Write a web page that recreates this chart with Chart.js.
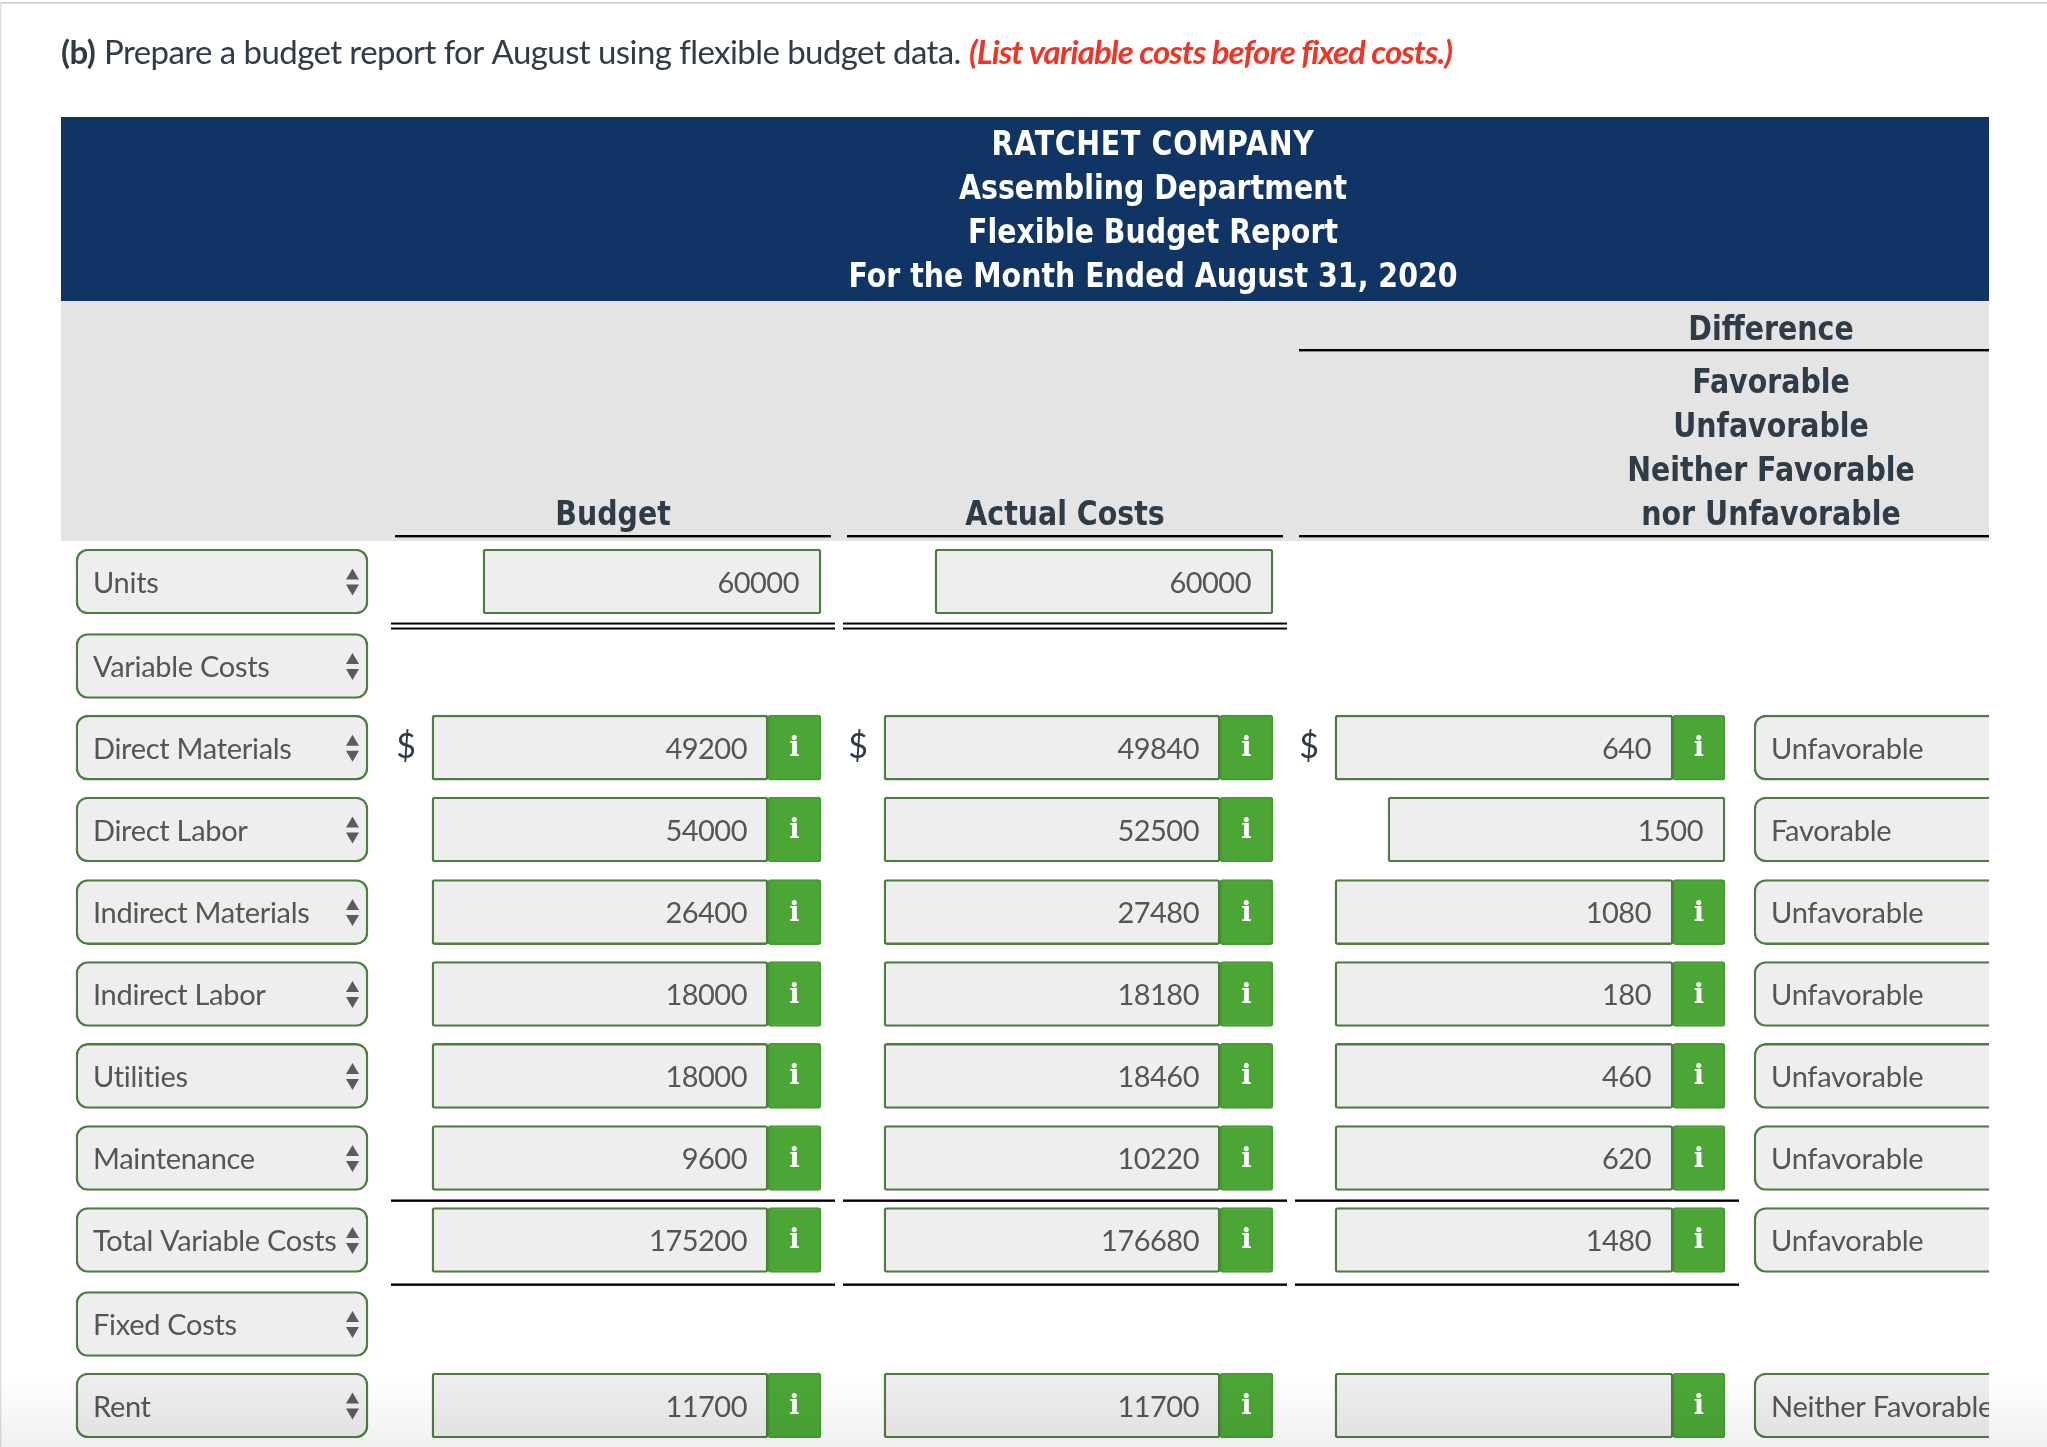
<!DOCTYPE html>
<html>
<head>
<meta charset="utf-8">
<title>Flexible Budget Report</title>
<style>
  html, body { margin: 0; padding: 0; background: #fff; }
  canvas { display: block; }
</style>
<script src="https://cdn.jsdelivr.net/npm/chart.js@4/dist/chart.umd.min.js"></script>
</head>
<body>
<canvas id="report" width="2047" height="1447"></canvas>
<script>
// Table rows
const rowLabels = ['Units', 'Variable Costs', 'Direct Materials', 'Direct Labor', 'Indirect Materials',
  'Indirect Labor', 'Utilities', 'Maintenance', 'Total Variable Costs', 'Fixed Costs', 'Rent'];
const budgetValues = [60000, null, 49200, 54000, 26400, 18000, 18000, 9600, 175200, null, 11700];
const actualValues = [60000, null, 49840, 52500, 27480, 18180, 18460, 10220, 176680, null, 11700];
const diffValues = [null, null, 640, 1500, 1080, 180, 460, 620, 1480, null, ''];
const diffStatus = [null, null, 'Unfavorable', 'Favorable', 'Unfavorable', 'Unfavorable', 'Unfavorable',
  'Unfavorable', 'Unfavorable', null, 'Neither Favorable'];
const budgetInfo = [false, false, true, true, true, true, true, true, true, false, true];
const actualInfo = [false, false, true, true, true, true, true, true, true, false, true];
const diffInfo = [false, false, true, false, true, true, true, true, true, false, true];
const dollarRows = ['Direct Materials'];

// Heading text
const reportTitle = ['RATCHET COMPANY', 'Assembling Department', 'Flexible Budget Report', 'For the Month Ended August 31, 2020'];
const statusHeader = ['Favorable', 'Unfavorable', 'Neither Favorable', 'nor Unfavorable'];

// Layout, in page pixels on the x scale
const TABLE_LEFT = 61, TABLE_RIGHT = 1989;
const SELECT_COL = [76, 368];
const STATUS_COL = [1754, 2020];
const COLS = [
  { values: budgetValues, info: budgetInfo, left: 432, split: 768, right: 821, plainLeft: 483, textRight: 747 },
  { values: actualValues, info: actualInfo, left: 884, split: 1220, right: 1273, plainLeft: 935, textRight: 1199 },
  { values: diffValues, info: diffInfo, left: 1335, split: 1673, right: 1725, plainLeft: 1388, textRight: 1651 }
];
// the rows of the original are not quite evenly spaced
const ROW_NUDGE = [0.3, 2.3, 1.5, 0.9, 1, 0.5, 0, -0.4, -0.9, 0.7, -0.3];

const BORDER = '#4e7d42', FIELD = '#eeeeee', GREEN = '#4ca636', INK = '#555555', DARK = '#2f3b46';

function fieldBars(col) {
  return col.values.map((v, i) => {
    if (v === null) return null;
    return col.info[i] ? [col.left, col.split] : [col.plainLeft, col.right];
  });
}
function infoBars(col) {
  return col.values.map((v, i) => (v !== null && col.info[i]) ? [col.split, col.right] : null);
}

const datasets = [
  { data: rowLabels.map(() => SELECT_COL), backgroundColor: FIELD, borderColor: BORDER, borderWidth: 2.4, borderRadius: 12 },
  { data: diffStatus.map(s => s ? STATUS_COL : null), backgroundColor: FIELD, borderColor: BORDER, borderWidth: 2.4, borderRadius: 12 }
];
COLS.forEach(col => {
  datasets.push({ data: fieldBars(col), backgroundColor: FIELD, borderColor: BORDER, borderWidth: 2.4, borderRadius: 3 });
  datasets.push({ data: infoBars(col), backgroundColor: GREEN, borderColor: '#479a36', borderWidth: 2, borderRadius: 3 });
});

function put(ctx, text, x, y, font, color, align, spacing) {
  ctx.font = font;
  ctx.fillStyle = color;
  ctx.textAlign = align || 'left';
  ctx.textBaseline = 'middle';
  ctx.letterSpacing = spacing || '0px';
  ctx.fillText(text, x, y);
  ctx.letterSpacing = '0px';
}

// the bold headings in the original are a squeezed Verdana look
function putHead(ctx, text, x, y, color, spacing) {
  ctx.save();
  ctx.translate(x, y);
  ctx.scale(0.862, 1);
  put(ctx, text, 0, 0, 'bold 33px "DejaVu Sans"', color, 'center', spacing);
  ctx.restore();
}

function rule(ctx, x0, x1, y, h) {
  ctx.fillStyle = '#000';
  ctx.fillRect(x0, y, x1 - x0, h || 2.4);
}

// Page furniture behind the table
const headerPlugin = {
  id: 'header',
  afterDatasetsUpdate(chart) {
    chart.data.datasets.forEach((ds, d) => {
      chart.getDatasetMeta(d).data.forEach((bar, i) => { bar.y += ROW_NUDGE[i]; });
    });
  },
  beforeDatasetsDraw(chart) {
    const ctx = chart.ctx, x = chart.scales.x;
    const px = v => x.getPixelForValue(v);
    ctx.save();
    ctx.fillStyle = '#ffffff';
    ctx.fillRect(0, 0, 2047, 1447);
    ctx.fillStyle = '#c9c9c9';
    ctx.fillRect(0, 2, 2047, 1.5);
    ctx.fillStyle = '#e2e2e2';
    ctx.fillRect(0, 2, 1.5, 1445);

    put(ctx, '(b)', px(61), 53, 'bold 33px Lato', DARK, 'left', '-0.5px');
    put(ctx, 'Prepare a budget report for August using flexible budget data.', px(104), 53, '33px Lato', DARK, 'left', '-0.57px');
    put(ctx, '(List variable costs before fixed costs.)', px(969), 53, 'italic bold 33px Lato', '#f03526', 'left', '-0.92px');

    ctx.fillStyle = '#103463';
    ctx.fillRect(px(TABLE_LEFT), 117, px(TABLE_RIGHT) - px(TABLE_LEFT), 184);
    ctx.fillStyle = '#e4e4e4';
    ctx.fillRect(px(TABLE_LEFT), 301, px(TABLE_RIGHT) - px(TABLE_LEFT), 240);

    reportTitle.forEach((t, i) => putHead(ctx, t, px(1153), 146 + i * 44, '#ffffff', i === 0 ? '0.8px' : '0px'));
    putHead(ctx, 'Difference', px(1771), 331, DARK);
    statusHeader.forEach((t, i) => putHead(ctx, t, px(1771), 384 + i * 44, DARK));
    putHead(ctx, 'Budget', px(613), 516, DARK);
    putHead(ctx, 'Actual Costs', px(1065), 516, DARK);

    rule(ctx, px(1299), px(TABLE_RIGHT), 349);
    rule(ctx, px(395), px(831), 535);
    rule(ctx, px(847), px(1283), 535);
    rule(ctx, px(1299), px(TABLE_RIGHT), 535);
    ctx.restore();
  }
};

// Text and small marks on top of the boxes
const cellPlugin = {
  id: 'cells',
  afterDatasetsDraw(chart) {
    const ctx = chart.ctx, x = chart.scales.x, y = chart.scales.y;
    const px = v => x.getPixelForValue(v);
    const valueFont = '29px Lato';
    ctx.save();

    rowLabels.forEach((label, i) => {
      const cy = y.getPixelForValue(i) + ROW_NUDGE[i];
      put(ctx, label, px(93), cy + 2, valueFont, INK, 'left', '-0.3px');
      // select arrows
      ctx.fillStyle = '#5b5b5b';
      ctx.beginPath();
      ctx.moveTo(px(346), cy - 2); ctx.lineTo(px(359), cy - 2); ctx.lineTo(px(352.5), cy - 13); ctx.closePath();
      ctx.moveTo(px(346), cy + 3); ctx.lineTo(px(359), cy + 3); ctx.lineTo(px(352.5), cy + 14); ctx.closePath();
      ctx.fill();

      COLS.forEach(col => {
        const v = col.values[i];
        if (v === null) return;
        const right = col.info[i] ? col.textRight : col.right - 22;
        if (v !== '') put(ctx, String(v), px(right), cy + 2, valueFont, INK, 'right', '-0.5px');
        if (col.info[i]) {
          put(ctx, 'i', px((col.split + col.right) / 2), cy + 1.5, 'bold 27px "DejaVu Serif"', '#ffffff', 'center');
        }
        if (dollarRows.includes(label)) put(ctx, '$', px(col.left - 26), cy - 1, '34px Lato', DARK, 'center');
      });

      if (diffStatus[i]) put(ctx, diffStatus[i], px(1771), cy + 2, valueFont, INK, 'left', '-0.25px');

      // rules under units and around the total
      if (label === 'Units') {
        [[391, 835], [843, 1287]].forEach(r => {
          rule(ctx, px(r[0]), px(r[1]), cy + 41, 2);
          rule(ctx, px(r[0]), px(r[1]), cy + 46, 2);
        });
      }
      if (label === 'Total Variable Costs') {
        [[391, 835], [843, 1287], [1295, 1739]].forEach(r => {
          rule(ctx, px(r[0]), px(r[1]), cy - 40.5);
          rule(ctx, px(r[0]), px(r[1]), cy + 43.5);
        });
      }
    });

    // the report is cut off at the right edge of the table
    ctx.fillStyle = '#ffffff';
    ctx.fillRect(px(TABLE_RIGHT), 541, 2047 - px(TABLE_RIGHT), 906);

    // page fades out at the bottom
    const fade = ctx.createLinearGradient(0, 1375, 0, 1447);
    fade.addColorStop(0, 'rgba(0,0,0,0)');
    fade.addColorStop(1, 'rgba(0,0,0,0.06)');
    ctx.fillStyle = fade;
    ctx.fillRect(0, 1375, 2047, 72);
    ctx.restore();
  }
};

new Chart(document.getElementById('report').getContext('2d'), {
  type: 'bar',
  data: { labels: rowLabels, datasets },
  plugins: [headerPlugin, cellPlugin],
  options: {
    indexAxis: 'y',
    responsive: false,
    animation: false,
    events: [],
    layout: { padding: { top: 540, left: 0, right: 0, bottom: 0 } },
    datasets: { bar: { barThickness: 65, grouped: false, borderSkipped: false } },
    plugins: { legend: { display: false }, tooltip: { enabled: false }, title: { display: false } },
    scales: {
      x: { type: 'linear', min: 0, max: 2047, display: false },
      y: { type: 'category', display: false }
    }
  }
});
</script>
</body>
</html>
